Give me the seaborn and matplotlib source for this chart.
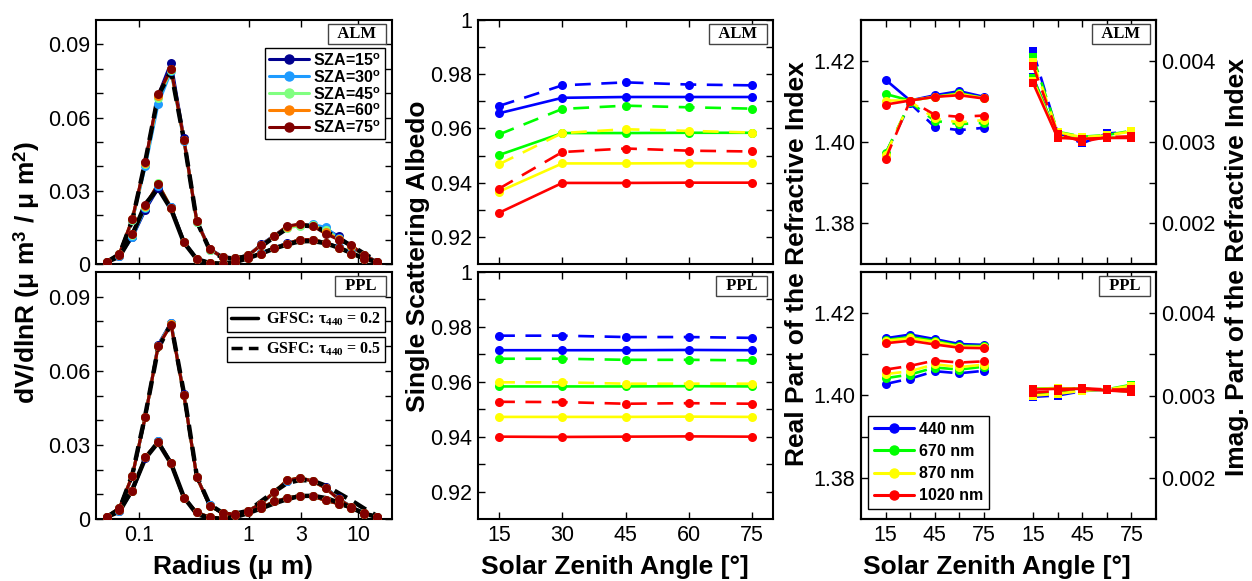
import matplotlib
matplotlib.use("Agg")
import matplotlib.pyplot as plt
import seaborn as sns
from matplotlib.lines import Line2D
from matplotlib.ticker import FixedLocator, NullLocator, FixedFormatter, NullFormatter

# ---------------- data ----------------
radius = [0.05, 0.065604, 0.086077, 0.112939, 0.148184, 0.194429, 0.255105, 0.334716,
          0.439173, 0.576227, 0.756052, 0.991996, 1.301571, 1.707757, 2.240702, 2.939966,
          3.857452, 5.061260, 6.640745, 8.713145, 11.432287, 15.0]

true_tau02 = [0.0008, 0.0030, 0.0120, 0.0245, 0.0310, 0.0225, 0.0088, 0.0020, 0.0004, 0.0001, 0.0008,
              0.0024, 0.0043, 0.0063, 0.0080, 0.0093, 0.0094, 0.0085, 0.0067, 0.0045, 0.0022, 0.0008]
true_tau05 = [0.0008, 0.0040, 0.0180, 0.0420, 0.0690, 0.0790, 0.0510, 0.0175, 0.0058, 0.0025, 0.0022,
              0.0033, 0.0072, 0.0110, 0.0145, 0.0158, 0.0155, 0.0135, 0.0105, 0.0075, 0.0042, 0.0012]

sza_labels = ["15", "30", "45", "60", "75"]
sza_colors = ["#00008F", "#1E9BFF", "#80FF80", "#FF8000", "#800000"]

alm_dv_tau05 = {
    "15": [0.0009, 0.0040, 0.0180, 0.0415, 0.0690, 0.0825, 0.0515, 0.0178, 0.0062, 0.0030, 0.0025,
           0.0036, 0.0080, 0.0116, 0.0152, 0.0160, 0.0158, 0.0142, 0.0114, 0.0072, 0.0037, 0.0009],
    "30": [0.0008, 0.0040, 0.0180, 0.0400, 0.0657, 0.0790, 0.0505, 0.0172, 0.0058, 0.0027, 0.0024,
           0.0035, 0.0079, 0.0116, 0.0150, 0.0160, 0.0162, 0.0150, 0.0108, 0.0070, 0.0036, 0.0008],
    "45": [0.0008, 0.0041, 0.0182, 0.0410, 0.0680, 0.0795, 0.0508, 0.0174, 0.0059, 0.0028, 0.0025,
           0.0035, 0.0078, 0.0113, 0.0148, 0.0157, 0.0158, 0.0138, 0.0104, 0.0073, 0.0035, 0.0008],
    "60": [0.0008, 0.0042, 0.0184, 0.0415, 0.0690, 0.0798, 0.0510, 0.0175, 0.0060, 0.0028, 0.0025,
           0.0035, 0.0078, 0.0114, 0.0153, 0.0162, 0.0157, 0.0130, 0.0102, 0.0075, 0.0035, 0.0008],
    "75": [0.0008, 0.0042, 0.0185, 0.0418, 0.0695, 0.0800, 0.0510, 0.0175, 0.0060, 0.0028, 0.0025,
           0.0035, 0.0078, 0.0114, 0.0155, 0.0164, 0.0156, 0.0124, 0.0100, 0.0076, 0.0035, 0.0008],
}
alm_dv_tau02 = {
    "15": [0.0008, 0.0034, 0.0110, 0.0222, 0.0310, 0.0235, 0.0092, 0.0021, 0.0005, 0.0002, 0.0008,
           0.0025, 0.0044, 0.0066, 0.0085, 0.0098, 0.0100, 0.0088, 0.0068, 0.0044, 0.0022, 0.0008],
    "30": [0.0008, 0.0034, 0.0112, 0.0228, 0.0320, 0.0232, 0.0091, 0.0020, 0.0005, 0.0002, 0.0008,
           0.0025, 0.0044, 0.0066, 0.0084, 0.0099, 0.0100, 0.0088, 0.0068, 0.0044, 0.0022, 0.0008],
    "45": [0.0008, 0.0035, 0.0118, 0.0235, 0.0330, 0.0231, 0.0090, 0.0020, 0.0005, 0.0002, 0.0008,
           0.0025, 0.0043, 0.0065, 0.0083, 0.0100, 0.0100, 0.0087, 0.0067, 0.0043, 0.0022, 0.0008],
    "60": [0.0008, 0.0035, 0.0122, 0.0238, 0.0327, 0.0230, 0.0090, 0.0020, 0.0005, 0.0002, 0.0008,
           0.0025, 0.0043, 0.0065, 0.0083, 0.0100, 0.0100, 0.0087, 0.0067, 0.0043, 0.0022, 0.0008],
    "75": [0.0008, 0.0035, 0.0124, 0.0240, 0.0327, 0.0230, 0.0090, 0.0020, 0.0005, 0.0002, 0.0008,
           0.0025, 0.0043, 0.0065, 0.0083, 0.0100, 0.0100, 0.0087, 0.0067, 0.0043, 0.0022, 0.0008],
}
ppl_dv_tau05 = {
    "15": [0.0008, 0.0044, 0.0174, 0.0412, 0.0705, 0.0795, 0.0505, 0.0171, 0.0055, 0.0024, 0.0020,
           0.0034, 0.0062, 0.0108, 0.0154, 0.0166, 0.0155, 0.0128, 0.0083, 0.0049, 0.0023, 0.0008],
    "30": [0.0008, 0.0044, 0.0175, 0.0413, 0.0702, 0.0792, 0.0503, 0.0170, 0.0055, 0.0024, 0.0020,
           0.0034, 0.0062, 0.0108, 0.0155, 0.0166, 0.0154, 0.0127, 0.0082, 0.0048, 0.0023, 0.0008],
    "45": [0.0008, 0.0045, 0.0176, 0.0414, 0.0700, 0.0790, 0.0502, 0.0170, 0.0054, 0.0024, 0.0020,
           0.0034, 0.0062, 0.0109, 0.0156, 0.0167, 0.0153, 0.0126, 0.0081, 0.0048, 0.0023, 0.0008],
    "60": [0.0008, 0.0045, 0.0176, 0.0414, 0.0699, 0.0788, 0.0502, 0.0170, 0.0054, 0.0024, 0.0020,
           0.0034, 0.0062, 0.0109, 0.0156, 0.0167, 0.0153, 0.0125, 0.0080, 0.0048, 0.0023, 0.0008],
    "75": [0.0008, 0.0045, 0.0176, 0.0414, 0.0699, 0.0787, 0.0502, 0.0170, 0.0054, 0.0024, 0.0020,
           0.0034, 0.0062, 0.0109, 0.0156, 0.0167, 0.0153, 0.0125, 0.0080, 0.0048, 0.0023, 0.0008],
}
ppl_dv_tau02 = {
    "15": [0.0008, 0.0034, 0.0112, 0.0248, 0.0316, 0.0228, 0.0085, 0.0027, 0.0007, 0.0003, 0.0016,
           0.0030, 0.0045, 0.0071, 0.0084, 0.0095, 0.0093, 0.0076, 0.0062, 0.0044, 0.0022, 0.0008],
    "30": [0.0008, 0.0034, 0.0113, 0.0249, 0.0315, 0.0228, 0.0085, 0.0027, 0.0007, 0.0003, 0.0016,
           0.0030, 0.0045, 0.0071, 0.0084, 0.0095, 0.0093, 0.0076, 0.0062, 0.0044, 0.0022, 0.0008],
    "45": [0.0008, 0.0035, 0.0114, 0.0250, 0.0313, 0.0227, 0.0084, 0.0027, 0.0007, 0.0003, 0.0016,
           0.0030, 0.0045, 0.0071, 0.0084, 0.0095, 0.0092, 0.0075, 0.0062, 0.0044, 0.0022, 0.0008],
    "60": [0.0008, 0.0035, 0.0115, 0.0251, 0.0312, 0.0227, 0.0084, 0.0027, 0.0007, 0.0003, 0.0016,
           0.0030, 0.0045, 0.0071, 0.0084, 0.0095, 0.0092, 0.0075, 0.0062, 0.0044, 0.0022, 0.0008],
    "75": [0.0008, 0.0035, 0.0115, 0.0251, 0.0312, 0.0227, 0.0084, 0.0027, 0.0007, 0.0003, 0.0016,
           0.0030, 0.0045, 0.0071, 0.0084, 0.0095, 0.0092, 0.0075, 0.0062, 0.0044, 0.0022, 0.0008],
}

sza = [15, 30, 45, 60, 75]
wavelengths = ["440 nm", "670 nm", "870 nm", "1020 nm"]
wl_colors = ["#0000FF", "#00FF00", "#FFFF00", "#FF0000"]

ssa_alm_tau02 = {
    "440 nm": [0.9656, 0.9713, 0.9716, 0.9716, 0.9716],
    "670 nm": [0.9502, 0.9583, 0.9583, 0.9584, 0.9584],
    "870 nm": [0.9367, 0.9471, 0.9471, 0.9472, 0.9471],
    "1020 nm": [0.9289, 0.9399, 0.9399, 0.9400, 0.9400],
}
ssa_alm_tau05 = {
    "440 nm": [0.9683, 0.9759, 0.9770, 0.9762, 0.9759],
    "670 nm": [0.9578, 0.9672, 0.9684, 0.9678, 0.9673],
    "870 nm": [0.9468, 0.9583, 0.9597, 0.9591, 0.9585],
    "1020 nm": [0.9378, 0.9513, 0.9526, 0.9518, 0.9515],
}
ssa_ppl_tau02 = {
    "440 nm": [0.9715, 0.9715, 0.9715, 0.9716, 0.9715],
    "670 nm": [0.9583, 0.9583, 0.9583, 0.9584, 0.9583],
    "870 nm": [0.9472, 0.9472, 0.9472, 0.9473, 0.9472],
    "1020 nm": [0.9400, 0.9399, 0.9400, 0.9401, 0.9400],
}
ssa_ppl_tau05 = {
    "440 nm": [0.9768, 0.9768, 0.9763, 0.9763, 0.9760],
    "670 nm": [0.9684, 0.9684, 0.9680, 0.9680, 0.9678],
    "870 nm": [0.9598, 0.9598, 0.9593, 0.9593, 0.9593],
    "1020 nm": [0.9527, 0.9526, 0.9520, 0.9522, 0.9520],
}

real_alm_tau02 = {
    "440 nm": [1.4153, 1.4102, 1.4115, 1.4125, 1.4111],
    "670 nm": [1.4118, 1.4102, 1.4111, 1.4120, 1.4108],
    "870 nm": [1.4102, 1.4102, 1.4111, 1.4118, 1.4108],
    "1020 nm": [1.4092, 1.4102, 1.4111, 1.4115, 1.4107],
}
real_alm_tau05 = {
    "440 nm": [1.3971, 1.4095, 1.4037, 1.4029, 1.4035],
    "670 nm": [1.3972, 1.4098, 1.4052, 1.4044, 1.4047],
    "870 nm": [1.3968, 1.4100, 1.4058, 1.4048, 1.4054],
    "1020 nm": [1.3958, 1.4102, 1.4067, 1.4062, 1.4065],
}
imag_alm_tau02 = {
    "440 nm": [0.003797, 0.003057, 0.003045, 0.003053, 0.003053],
    "670 nm": [0.003790, 0.003060, 0.003045, 0.003053, 0.003053],
    "870 nm": [0.003756, 0.003057, 0.003045, 0.003053, 0.003053],
    "1020 nm": [0.003724, 0.003050, 0.003040, 0.003050, 0.003050],
}
imag_alm_tau05 = {
    "440 nm": [0.004114, 0.003110, 0.002984, 0.003105, 0.003125],
    "670 nm": [0.004041, 0.003126, 0.003065, 0.003085, 0.003138],
    "870 nm": [0.003988, 0.003120, 0.003060, 0.003080, 0.003130],
    "1020 nm": [0.003939, 0.003100, 0.003004, 0.003060, 0.003070],
}
real_ppl_tau02 = {
    "440 nm": [1.4139, 1.4148, 1.4137, 1.4125, 1.4123],
    "670 nm": [1.4135, 1.4142, 1.4133, 1.4121, 1.4120],
    "870 nm": [1.4133, 1.4139, 1.4130, 1.4119, 1.4118],
    "1020 nm": [1.4127, 1.4133, 1.4124, 1.4116, 1.4115],
}
real_ppl_tau05 = {
    "440 nm": [1.4028, 1.4041, 1.4059, 1.4054, 1.4060],
    "670 nm": [1.4042, 1.4051, 1.4068, 1.4063, 1.4070],
    "870 nm": [1.4052, 1.4059, 1.4076, 1.4069, 1.4075],
    "1020 nm": [1.4063, 1.4072, 1.4085, 1.4080, 1.4083],
}
imag_ppl_tau02 = {
    "440 nm": [0.003081, 0.003089, 0.003081, 0.003065, 0.003049],
    "670 nm": [0.003083, 0.003090, 0.003081, 0.003066, 0.003050],
    "870 nm": [0.003080, 0.003087, 0.003081, 0.003064, 0.003048],
    "1020 nm": [0.003073, 0.003081, 0.003081, 0.003061, 0.003045],
}
imag_ppl_tau05 = {
    "440 nm": [0.002984, 0.003000, 0.003053, 0.003073, 0.003110],
    "670 nm": [0.003010, 0.003030, 0.003060, 0.003075, 0.003130],
    "870 nm": [0.003000, 0.003020, 0.003058, 0.003072, 0.003120],
    "1020 nm": [0.003033, 0.003057, 0.003089, 0.003073, 0.003073],
}

# ---------------- style ----------------
sns.set_theme(style="ticks")
plt.rcParams["font.family"] = ["Liberation Sans", "DejaVu Sans"]
plt.rcParams["mathtext.fontset"] = "custom"
plt.rcParams["mathtext.rm"] = "Liberation Serif"
plt.rcParams["mathtext.bf"] = "Liberation Serif:bold"
plt.rcParams["mathtext.it"] = "Liberation Serif:italic"
plt.rcParams["mathtext.sf"] = "Liberation Sans:bold"
for k in ["text.color", "axes.labelcolor", "xtick.color", "ytick.color", "axes.edgecolor"]:
    plt.rcParams[k] = "black"

W, H = 1252, 581
fig = plt.figure(figsize=(W / 100, H / 100), dpi=100)


def px_axes(x0, x1, y0, y1):
    return fig.add_axes([x0 / W, (H - y1) / H, (x1 - x0) / W, (y1 - y0) / H])


ROW_TOP = (20, 264)
ROW_BOT = (272, 519)
COL_L = (96, 392)
COL_M = (478, 773)
COL_R = (861, 1156)

TICK_FS = 15.5
LABEL_FS = 19
DASH_BLACK = (0, (3.2, 1.8))
DASH = (0, (6, 4))


def style_axes(ax, right=True):
    ax.tick_params(which="both", direction="in", length=5, width=1, top=True, right=right,
                   labelsize=TICK_FS, pad=4, colors="black")
    for s in ax.spines.values():
        s.set_linewidth(1.5)
        s.set_color("black")
    ax.set_xlabel("")
    ax.set_ylabel("")


def tag(ax, text, axw, axh):
    ax.text(1 - 8 / axw, 1 - 6 / axh, "  " + text + "  ", transform=ax.transAxes, ha="right", va="top",
            fontsize=12, fontweight="bold", family="Liberation Serif", zorder=10,
            bbox=dict(boxstyle="square,pad=0.1", fc="white", ec="#444444", lw=1))


# ---------------- left column: size distributions ----------------
ax_l_top = px_axes(COL_L[0], COL_L[1], *ROW_TOP)
ax_l_bot = px_axes(COL_L[0], COL_L[1], *ROW_BOT)

for ax, d05, d02, name, row in [(ax_l_top, alm_dv_tau05, alm_dv_tau02, "ALM", ROW_TOP),
                                 (ax_l_bot, ppl_dv_tau05, ppl_dv_tau02, "PPL", ROW_BOT)]:
    ax.set_xscale("log")
    for lab, c in zip(sza_labels, sza_colors):
        sns.lineplot(x=radius, y=d05[lab], ax=ax, color=c, lw=2.2, zorder=2, estimator=None, sort=False)
        sns.lineplot(x=radius, y=d02[lab], ax=ax, color=c, lw=2.2, zorder=2, estimator=None, sort=False)
    sns.lineplot(x=radius, y=true_tau02, ax=ax, color="black", lw=3.2, zorder=3, estimator=None, sort=False)
    sns.lineplot(x=radius, y=true_tau05, ax=ax, color="black", lw=3.2, linestyle=DASH_BLACK, zorder=3,
                 estimator=None, sort=False)
    for lab, c in zip(sza_labels, sza_colors):
        sns.scatterplot(x=radius, y=d05[lab], ax=ax, color=c, s=42, linewidth=0, zorder=4)
        sns.scatterplot(x=radius, y=d02[lab], ax=ax, color=c, s=42, linewidth=0, zorder=4)
    ax.set_xlim(0.04, 20.5)
    ax.set_ylim(0, 0.1)
    ax.xaxis.set_major_locator(FixedLocator([0.1, 1, 3, 10]))
    ax.xaxis.set_minor_locator(NullLocator())
    ax.xaxis.set_major_formatter(FixedFormatter(["0.1", "1", "3", "10"]))
    ax.yaxis.set_major_locator(FixedLocator([0, 0.03, 0.06, 0.09]))
    ax.yaxis.set_major_formatter(FixedFormatter(["0", "0.03", "0.06", "0.09"]))
    ax.yaxis.set_minor_locator(FixedLocator([0.01, 0.02, 0.04, 0.05, 0.07, 0.08]))
    style_axes(ax)
    tag(ax, name, COL_L[1] - COL_L[0], row[1] - row[0])

ax_l_top.xaxis.set_major_formatter(NullFormatter())

sza_handles = [Line2D([], [], color=c, lw=2.2, marker="o", ms=6.5, mec=c) for c in sza_colors]
leg = ax_l_top.legend(sza_handles, [r"SZA=" + s + r"$^{\mathsf{o}}$" for s in sza_labels],
                      loc="upper right", bbox_to_anchor=(1 - 7 / 296, 1 - 28 / 244), borderaxespad=0,
                      prop={"family": "Liberation Sans", "weight": "bold", "size": 11.5},
                      frameon=True, fancybox=False, framealpha=1, edgecolor="black",
                      handlelength=2.5, handletextpad=0.3, labelspacing=0.05, borderpad=0.25)
leg.get_frame().set_linewidth(1)

leg1 = ax_l_bot.legend([Line2D([], [], color="black", lw=2.5)],
                       ["GFSC: \u03c4$_{\\mathbf{440}}$ = 0.2"],
                       loc="upper right", bbox_to_anchor=(1 - 7 / 296, 1 - 35 / 247), borderaxespad=0,
                       prop={"family": "Liberation Serif", "weight": "bold", "size": 11.5},
                       frameon=True, fancybox=False, framealpha=1, edgecolor="black",
                       handlelength=1.7, handletextpad=0.5, borderpad=0.25)
leg1.get_frame().set_linewidth(1)
ax_l_bot.add_artist(leg1)
leg2 = ax_l_bot.legend([Line2D([], [], color="black", lw=2.5, linestyle=DASH_BLACK)],
                       ["GSFC: \u03c4$_{\\mathbf{440}}$ = 0.5"],
                       loc="upper right", bbox_to_anchor=(1 - 7 / 296, 1 - 65 / 247), borderaxespad=0,
                       prop={"family": "Liberation Serif", "weight": "bold", "size": 11.5},
                       frameon=True, fancybox=False, framealpha=1, edgecolor="black",
                       handlelength=1.7, handletextpad=0.5, borderpad=0.25)
leg2.get_frame().set_linewidth(1)

# ---------------- middle column: SSA ----------------
ax_m_top = px_axes(COL_M[0], COL_M[1], *ROW_TOP)
ax_m_bot = px_axes(COL_M[0], COL_M[1], *ROW_BOT)
for ax, s02, s05, name, row in [(ax_m_top, ssa_alm_tau02, ssa_alm_tau05, "ALM", ROW_TOP),
                                 (ax_m_bot, ssa_ppl_tau02, ssa_ppl_tau05, "PPL", ROW_BOT)]:
    for wl, c in zip(wavelengths, wl_colors):
        sns.lineplot(x=sza, y=s05[wl], ax=ax, color=c, lw=1.9, linestyle=DASH, marker="o", ms=6.5,
                     mec=c, mew=0, estimator=None, sort=False)
        sns.lineplot(x=sza, y=s02[wl], ax=ax, color=c, lw=1.9, marker="o", ms=6.5,
                     mec=c, mew=0, estimator=None, sort=False)
    ax.set_xlim(10, 80)
    ax.set_ylim(0.91, 1.0)
    ax.xaxis.set_major_locator(FixedLocator(sza))
    ax.xaxis.set_major_formatter(FixedFormatter([str(s) for s in sza]))
    ax.yaxis.set_major_locator(FixedLocator([0.92, 0.94, 0.96, 0.98, 1.0]))
    ax.yaxis.set_major_formatter(FixedFormatter(["0.92", "0.94", "0.96", "0.98", "1"]))
    ax.yaxis.set_minor_locator(FixedLocator([0.93, 0.95, 0.97, 0.99]))
    style_axes(ax)
    tag(ax, name, COL_M[1] - COL_M[0], row[1] - row[0])
ax_m_top.xaxis.set_major_formatter(NullFormatter())

# ---------------- right column: refractive index ----------------
sza_imag = [s + 90 for s in sza]
ax_r_top = px_axes(COL_R[0], COL_R[1], *ROW_TOP)
ax_r_bot = px_axes(COL_R[0], COL_R[1], *ROW_BOT)
for ax, r02, r05, i02, i05, name, row in [
        (ax_r_top, real_alm_tau02, real_alm_tau05, imag_alm_tau02, imag_alm_tau05, "ALM", ROW_TOP),
        (ax_r_bot, real_ppl_tau02, real_ppl_tau05, imag_ppl_tau02, imag_ppl_tau05, "PPL", ROW_BOT)]:
    ax2 = ax.twinx()
    for wl, c in zip(wavelengths, wl_colors):
        sns.lineplot(x=sza, y=r05[wl], ax=ax, color=c, lw=1.9, linestyle=DASH, marker="o", ms=6.5,
                     mec=c, mew=0, estimator=None, sort=False)
        sns.lineplot(x=sza, y=r02[wl], ax=ax, color=c, lw=1.9, marker="o", ms=6.5,
                     mec=c, mew=0, estimator=None, sort=False)
        sns.lineplot(x=sza_imag, y=i05[wl], ax=ax2, color=c, lw=1.9, linestyle=DASH, marker="s", ms=6,
                     mec=c, mew=0, estimator=None, sort=False)
        sns.lineplot(x=sza_imag, y=i02[wl], ax=ax2, color=c, lw=1.9, marker="s", ms=6,
                     mec=c, mew=0, estimator=None, sort=False)
    ax.set_xlim(0, 180)
    ax2.set_xlim(0, 180)
    ax.set_ylim(1.37, 1.43)
    ax2.set_ylim(0.0015, 0.0045)
    ax.xaxis.set_major_locator(FixedLocator(sza + sza_imag))
    ax.xaxis.set_major_formatter(FixedFormatter(["15", "", "45", "", "75"] * 2))
    ax.yaxis.set_major_locator(FixedLocator([1.38, 1.40, 1.42]))
    ax.yaxis.set_major_formatter(FixedFormatter(["1.38", "1.40", "1.42"]))
    ax.yaxis.set_minor_locator(FixedLocator([1.39, 1.41]))
    ax2.yaxis.set_major_locator(FixedLocator([0.002, 0.003, 0.004]))
    ax2.yaxis.set_major_formatter(FixedFormatter(["0.002", "0.003", "0.004"]))
    ax2.yaxis.set_minor_locator(FixedLocator([0.0025, 0.0035]))
    style_axes(ax, right=False)
    ax2.tick_params(which="both", direction="in", length=5, width=1, left=False, right=True,
                    top=False, bottom=False, labelsize=TICK_FS, pad=4, colors="black")
    for s in ax2.spines.values():
        s.set_linewidth(1.5)
        s.set_color("black")
    ax2.set_ylabel("")
    ax2.set_xlabel("")
    tag(ax2, name, COL_R[1] - COL_R[0], row[1] - row[0])
    if name == "ALM":
        ax.xaxis.set_major_formatter(NullFormatter())
    else:
        wl_handles = [Line2D([], [], color=c, lw=2.2, marker="o", ms=6.5, mec=c) for c in wl_colors]
        lg = ax2.legend(wl_handles, wavelengths, loc="lower left",
                        bbox_to_anchor=(7 / 295, 10 / 247), borderaxespad=0,
                        prop={"family": "Liberation Sans", "weight": "bold", "size": 11.5},
                        frameon=True, fancybox=False, framealpha=1, edgecolor="black",
                        handlelength=2.5, handletextpad=0.35, labelspacing=0.45, borderpad=0.35)
        lg.get_frame().set_linewidth(1)

# ---------------- labels ----------------
fig.text(27 / W, 1 - 272 / H, r"dV/dlnR (\u03bc m$^{\mathsf{3}}$ / \u03bc m$^{\mathsf{2}}$)".replace(
    r"\u03bc", "\u03bc"), rotation=90, ha="center", va="center", fontsize=LABEL_FS, fontweight="bold")
fig.text(418 / W, 1 - 256 / H, "Single Scattering Albedo", rotation=90, ha="center", va="center",
         fontsize=LABEL_FS, fontweight="bold")
fig.text(797 / W, 1 - 264 / H, "Real Part of the Refractive Index", rotation=90, ha="center",
         va="center", fontsize=LABEL_FS, fontweight="bold")
fig.text(1237 / W, 1 - 267 / H, "Imag. Part of the Refractive Index", rotation=90, ha="center",
         va="center", fontsize=LABEL_FS, fontweight="bold")
fig.text(233 / W, 1 - 567 / H, "Radius (\u03bc m)", ha="center", va="center",
         fontsize=LABEL_FS, fontweight="bold")
fig.text(615 / W, 1 - 567 / H, "Solar Zenith Angle [\u00b0]", ha="center", va="center",
         fontsize=LABEL_FS, fontweight="bold")
fig.text(997 / W, 1 - 567 / H, "Solar Zenith Angle [\u00b0]", ha="center", va="center",
         fontsize=LABEL_FS, fontweight="bold")

fig.savefig("out.png", dpi=100, facecolor="white")
